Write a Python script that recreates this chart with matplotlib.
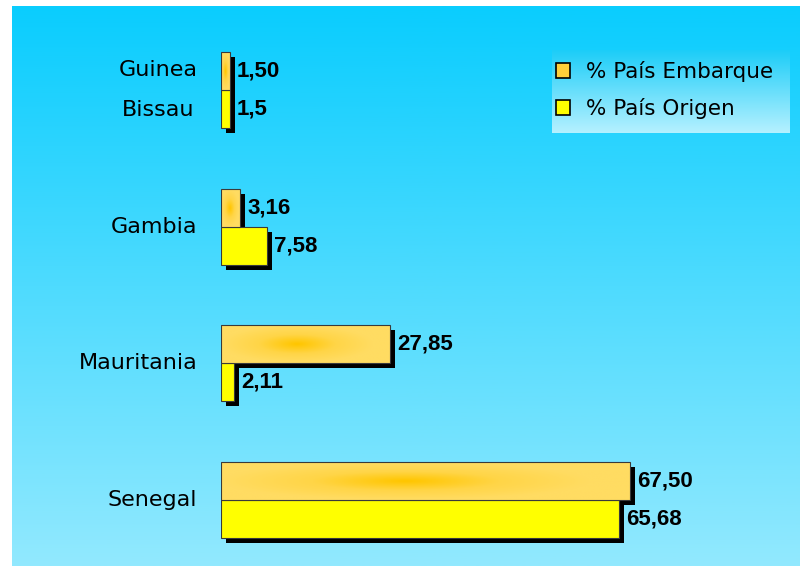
import numpy as np
import matplotlib
matplotlib.use('Agg')
import matplotlib.pyplot as plt
from matplotlib.colors import LinearSegmentedColormap
from matplotlib.transforms import ScaledTranslation
from matplotlib.patches import Patch

countries = ['Guinea\nBissau', 'Gambia', 'Mauritania', 'Senegal']
embarque = [1.50, 3.16, 27.85, 67.50]
origen = [1.5, 7.58, 2.11, 65.68]
embarque_lbl = ['1,50', '3,16', '27,85', '67,50']
origen_lbl = ['1,5', '7,58', '2,11', '65,68']

W, H = 800, 566
fig = plt.figure(figsize=(W / 100, H / 100), dpi=100)

# background panel with vertical gradient
bg = fig.add_axes([12 / W, 0, 1 - 12 / W, 1 - 6 / H])
bg.axis('off')
bg_cmap = LinearSegmentedColormap.from_list('bg', ['#0acdfe', '#92e9fe'])
bg.imshow(np.linspace(0, 1, 256).reshape(-1, 1), aspect='auto', cmap=bg_cmap,
          extent=[0, 1, 1, 0])

# main axes: x=0 sits at pixel 221
scale = 6.06  # pixels per percent
ax = fig.add_axes([221 / W, 0, (W - 221) / W, 1])
ax.patch.set_alpha(0)
for s in ax.spines.values():
    s.set_visible(False)
ax.set_xticks([])

y = np.arange(len(countries))
h = 0.278
shadow = ax.transData + ScaledTranslation(5 / 100, -5 / 100, fig.dpi_scale_trans)

ax.barh(y - h / 2, embarque, height=h, color='black', transform=shadow, zorder=1)
ax.barh(y + h / 2, origen, height=h, color='black', transform=shadow, zorder=1)
b_emb = ax.barh(y - h / 2, embarque, height=h, color='#ffd650', edgecolor='#3a3a3a',
                linewidth=0.8, zorder=2)
b_ori = ax.barh(y + h / 2, origen, height=h, color='#ffff00', edgecolor='#3a3a3a',
                linewidth=0.8, zorder=2)

# soft gold glow inside the orange bars
gx, gy = np.meshgrid(np.linspace(-1, 1, 200), np.linspace(-1, 1, 60))
glow = np.clip(np.sqrt(((gx + 0.1) / 0.9) ** 2 + (gy / 1.0) ** 2), 0, 1)
glow_cmap = LinearSegmentedColormap.from_list('glow', ['#ffc600', '#ffd547', '#ffdc62'])
for bar in b_emb:
    x0, y0 = bar.get_x(), bar.get_y()
    im = ax.imshow(glow, cmap=glow_cmap, aspect='auto', zorder=2.5,
                   extent=[x0, x0 + bar.get_width(), y0 + bar.get_height(), y0])
    im.set_clip_path(bar)
    bar.set_facecolor('none')
    bar.set_zorder(3)
ax.set_xlim(0, (W - 221) / scale)
ax.set_ylim(3.483, -0.659)

pad = 7 / scale
for i in range(len(countries)):
    ax.text(embarque[i] + pad, y[i] - h / 2, embarque_lbl[i], va='center', ha='left',
            fontsize=16, fontweight='bold', family='Liberation Sans', zorder=4)
    ax.text(origen[i] + pad, y[i] + h / 2, origen_lbl[i], va='center', ha='left',
            fontsize=16, fontweight='bold', family='Liberation Sans', zorder=4)

ax.set_yticks(y)
ax.set_yticklabels(countries, fontsize=16, family='DejaVu Sans', linespacing=2.2,
                   ha='right', va='center', multialignment='center')
ax.tick_params(axis='y', length=0, pad=17)

# legend with its own gradient box
lg_ax = fig.add_axes([552 / W, 1 - 133 / H, (790 - 552) / W, 83 / H])
lg_ax.axis('off')
lg_cmap = LinearSegmentedColormap.from_list('lg', ['#1ccdf8', '#b6f1ff'])
lg_ax.imshow(np.linspace(0, 1, 256).reshape(-1, 1), aspect='auto', cmap=lg_cmap,
             extent=[0, 1, 1, 0])
handles = [Patch(facecolor='#ffcf3a', edgecolor='black', linewidth=1.2),
           Patch(facecolor='#ffff00', edgecolor='black', linewidth=1.2)]
fig.legend(handles, ['% País Embarque', '% País Origen'], loc='center left',
           bbox_to_anchor=(556 / W, 1 - 90 / H), frameon=False,
           prop={'family': 'DejaVu Sans', 'size': 15.5}, handlelength=0.65,
           handleheight=0.65, handletextpad=0.75, labelspacing=0.75,
           borderpad=0, borderaxespad=0)

fig.savefig('out.png', dpi=100)
